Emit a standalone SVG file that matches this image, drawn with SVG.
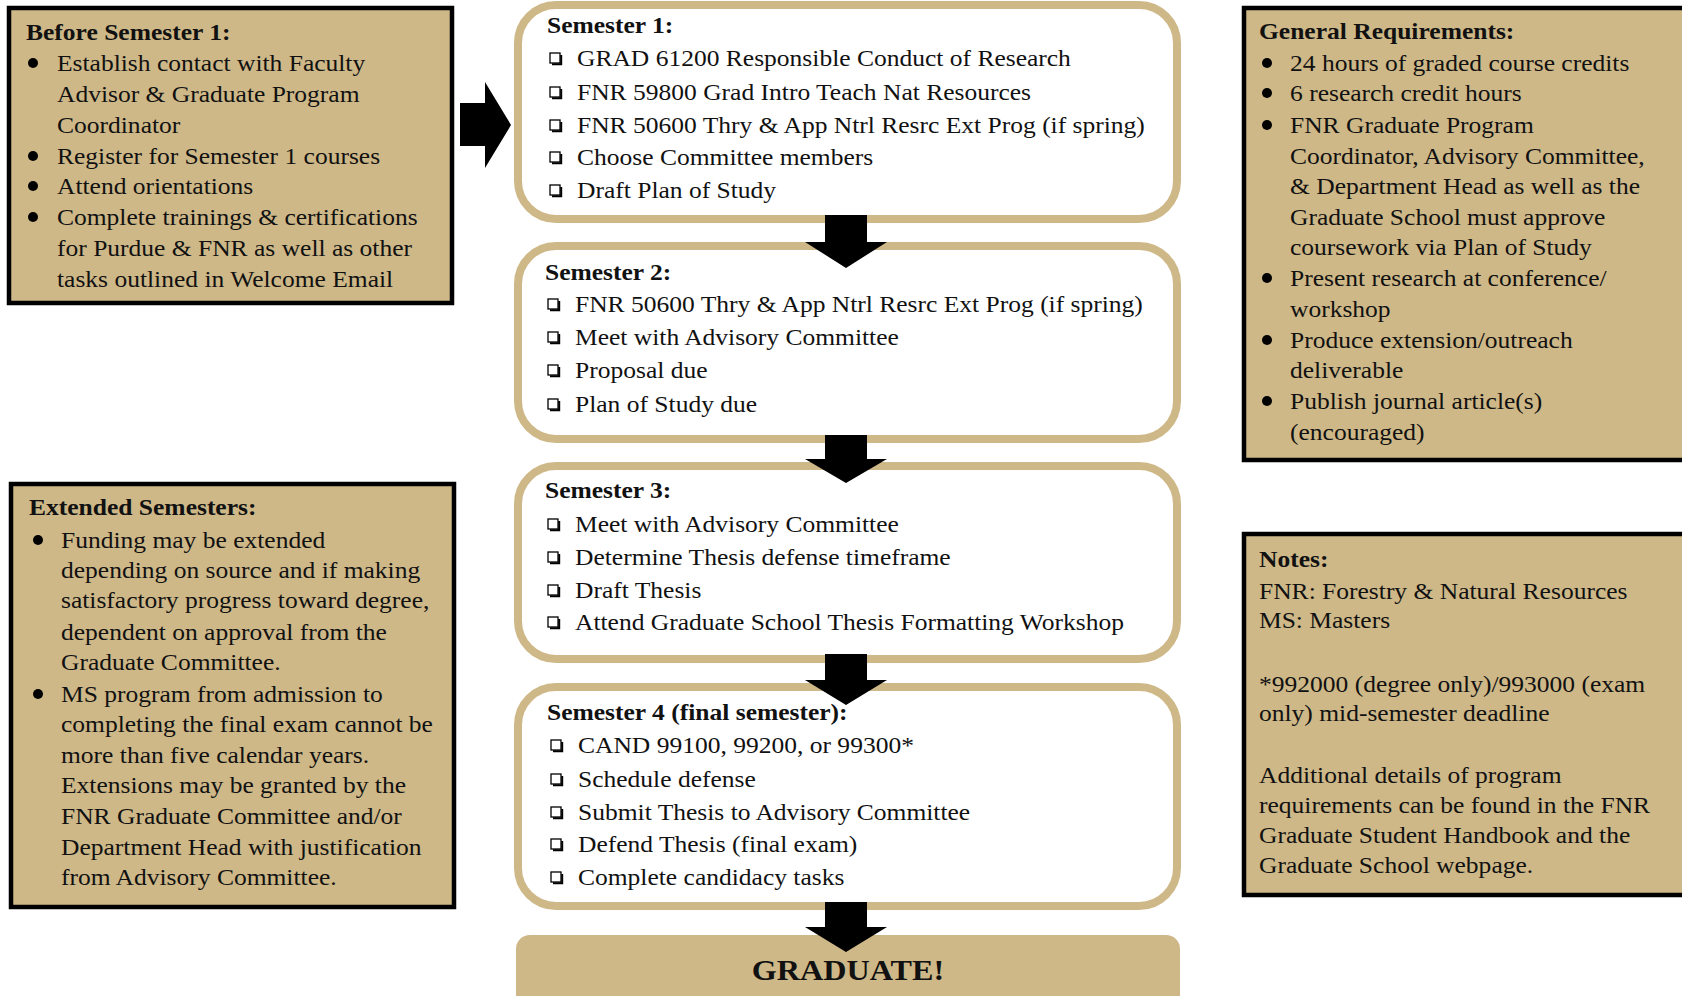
<svg xmlns="http://www.w3.org/2000/svg" xmlns:xlink="http://www.w3.org/1999/xlink" width="1682" height="996" viewBox="0 0 1682 996">
<style>
.side{fill:#CEB888;stroke:#000;stroke-width:4.5}
.sem{fill:#fff;stroke:#CEB888;stroke-width:8}
.t{font-family:"Liberation Serif","Times New Roman",serif;font-size:23px;fill:#111}
.b{font-weight:bold}
.arr{fill:#000}
</style>
<defs>
<g id="cb"><rect x="0" y="0" width="10" height="10" fill="#fff" stroke="#000" stroke-width="1.3"/><path d="M2 11.2 H11.2 V2" fill="none" stroke="#000" stroke-width="2"/></g>
</defs>
<rect width="1682" height="996" fill="#fff"/>

<g id="before">
<rect class="side" x="9" y="8" width="443" height="295"/>
<g transform="translate(26,0) scale(1.11,1)"><text class="t b" x="0" y="40">Before Semester 1:</text></g>
<g fill="#000"><circle cx="33" cy="63" r="5"/><circle cx="33" cy="156" r="5"/><circle cx="33" cy="186" r="5"/><circle cx="33" cy="217" r="5"/></g>
<g class="t" transform="translate(57,0) scale(1.11,1)">
<text x="0" y="71">Establish contact with Faculty</text>
<text x="0" y="102">Advisor &amp; Graduate Program</text>
<text x="0" y="133">Coordinator</text>
<text x="0" y="164">Register for Semester 1 courses</text>
<text x="0" y="194">Attend orientations</text>
<text x="0" y="225">Complete trainings &amp; certifications</text>
<text x="0" y="256">for Purdue &amp; FNR as well as other</text>
<text x="0" y="287">tasks outlined in Welcome Email</text>
</g>
</g>

<g id="extended">
<rect class="side" x="11" y="484" width="443" height="423"/>
<g transform="translate(29,0) scale(1.11,1)"><text class="t b" x="0" y="515">Extended Semesters:</text></g>
<g fill="#000"><circle cx="38" cy="540" r="5"/><circle cx="38" cy="694" r="5"/></g>
<g class="t" transform="translate(61,0) scale(1.11,1)">
<text x="0" y="548">Funding may be extended</text>
<text x="0" y="578">depending on source and if making</text>
<text x="0" y="608">satisfactory progress toward degree,</text>
<text x="0" y="640">dependent on approval from the</text>
<text x="0" y="670">Graduate Committee.</text>
<text x="0" y="702">MS program from admission to</text>
<text x="0" y="732">completing the final exam cannot be</text>
<text x="0" y="763">more than five calendar years.</text>
<text x="0" y="793">Extensions may be granted by the</text>
<text x="0" y="824">FNR Graduate Committee and/or</text>
<text x="0" y="855">Department Head with justification</text>
<text x="0" y="885">from Advisory Committee.</text>
</g>
</g>

<g id="general">
<rect class="side" x="1244" y="8" width="450" height="452"/>
<g transform="translate(1259,0) scale(1.11,1)"><text class="t b" x="0" y="39">General Requirements:</text></g>
<g fill="#000"><circle cx="1267" cy="63" r="5"/><circle cx="1267" cy="93" r="5"/><circle cx="1267" cy="125" r="5"/><circle cx="1267" cy="278" r="5"/><circle cx="1267" cy="340" r="5"/><circle cx="1267" cy="401" r="5"/></g>
<g class="t" transform="translate(1290,0) scale(1.11,1)">
<text x="0" y="71">24 hours of graded course credits</text>
<text x="0" y="101">6 research credit hours</text>
<text x="0" y="133">FNR Graduate Program</text>
<text x="0" y="164">Coordinator, Advisory Committee,</text>
<text x="0" y="194">&amp; Department Head as well as the</text>
<text x="0" y="225">Graduate School must approve</text>
<text x="0" y="255">coursework via Plan of Study</text>
<text x="0" y="286">Present research at conference/</text>
<text x="0" y="317">workshop</text>
<text x="0" y="348">Produce extension/outreach</text>
<text x="0" y="378">deliverable</text>
<text x="0" y="409">Publish journal article(s)</text>
<text x="0" y="440">(encouraged)</text>
</g>
</g>

<g id="notes">
<rect class="side" x="1244" y="534" width="450" height="361"/>
<g transform="translate(1259,0) scale(1.11,1)">
<text class="t b" x="0" y="567">Notes:</text>
<g class="t">
<text x="0" y="599">FNR: Forestry &amp; Natural Resources</text>
<text x="0" y="628">MS: Masters</text>
<text x="0" y="692">*992000 (degree only)/993000 (exam</text>
<text x="0" y="721">only) mid-semester deadline</text>
<text x="0" y="783">Additional details of program</text>
<text x="0" y="813">requirements can be found in the FNR</text>
<text x="0" y="843">Graduate Student Handbook and the</text>
<text x="0" y="873">Graduate School webpage.</text>
</g>
</g>
</g>

<g id="sem1">
<rect class="sem" x="518" y="5" width="659" height="214" rx="38"/>
<g transform="translate(547,0) scale(1.11,1)"><text class="t b" x="0" y="33">Semester 1:</text></g>
<use xlink:href="#cb" x="550" y="53"/><use xlink:href="#cb" x="550" y="87"/><use xlink:href="#cb" x="550" y="120"/><use xlink:href="#cb" x="550" y="152"/><use xlink:href="#cb" x="550" y="185"/>
<g class="t" transform="translate(577,0) scale(1.11,1)">
<text x="0" y="66">GRAD 61200 Responsible Conduct of Research</text>
<text x="0" y="100">FNR 59800 Grad Intro Teach Nat Resources</text>
<text x="0" y="133">FNR 50600 Thry &amp; App Ntrl Resrc Ext Prog (if spring)</text>
<text x="0" y="165">Choose Committee members</text>
<text x="0" y="198">Draft Plan of Study</text>
</g>
</g>

<g id="sem2">
<rect class="sem" x="518" y="246" width="659" height="193" rx="38"/>
<g transform="translate(545,0) scale(1.11,1)"><text class="t b" x="0" y="280">Semester 2:</text></g>
<use xlink:href="#cb" x="548" y="299"/><use xlink:href="#cb" x="548" y="332"/><use xlink:href="#cb" x="548" y="365"/><use xlink:href="#cb" x="548" y="399"/>
<g class="t" transform="translate(575,0) scale(1.11,1)">
<text x="0" y="312">FNR 50600 Thry &amp; App Ntrl Resrc Ext Prog (if spring)</text>
<text x="0" y="345">Meet with Advisory Committee</text>
<text x="0" y="378">Proposal due</text>
<text x="0" y="412">Plan of Study due</text>
</g>
</g>

<g id="sem3">
<rect class="sem" x="518" y="466" width="659" height="193" rx="38"/>
<g transform="translate(545,0) scale(1.11,1)"><text class="t b" x="0" y="498">Semester 3:</text></g>
<use xlink:href="#cb" x="548" y="519"/><use xlink:href="#cb" x="548" y="552"/><use xlink:href="#cb" x="548" y="585"/><use xlink:href="#cb" x="548" y="617"/>
<g class="t" transform="translate(575,0) scale(1.11,1)">
<text x="0" y="532">Meet with Advisory Committee</text>
<text x="0" y="565">Determine Thesis defense timeframe</text>
<text x="0" y="598">Draft Thesis</text>
<text x="0" y="630">Attend Graduate School Thesis Formatting Workshop</text>
</g>
</g>

<g id="sem4">
<rect class="sem" x="518" y="687" width="659" height="219" rx="38"/>
<g transform="translate(547,0) scale(1.11,1)"><text class="t b" x="0" y="720">Semester 4 (final semester):</text></g>
<use xlink:href="#cb" x="551" y="740"/><use xlink:href="#cb" x="551" y="774"/><use xlink:href="#cb" x="551" y="807"/><use xlink:href="#cb" x="551" y="839"/><use xlink:href="#cb" x="551" y="872"/>
<g class="t" transform="translate(578,0) scale(1.11,1)">
<text x="0" y="753">CAND 99100, 99200, or 99300*</text>
<text x="0" y="787">Schedule defense</text>
<text x="0" y="820">Submit Thesis to Advisory Committee</text>
<text x="0" y="852">Defend Thesis (final exam)</text>
<text x="0" y="885">Complete candidacy tasks</text>
</g>
</g>

<g id="graduate">
<rect x="516" y="935" width="664" height="90" rx="14" fill="#CEB888"/>
<g transform="translate(848,0) scale(1.11,1)"><text class="t b" x="0" y="980" text-anchor="middle" style="font-size:29px">GRADUATE!</text></g>
</g>

<g id="connectors" class="arr">
<path d="M460 103 H485 V82 L511 125 L485 168 V146 H460 Z"/>
<path d="M825 215 H867 V242 H887 L846 268 L805 242 H825 Z"/>
<path d="M825 435 H867 V459 H887 L846 483 L805 459 H825 Z"/>
<path d="M825 654 H867 V680 H887 L846 705 L805 680 H825 Z"/>
<path d="M825 902 H867 V927 H887 L846 952 L805 927 H825 Z"/>
</g>
</svg>
